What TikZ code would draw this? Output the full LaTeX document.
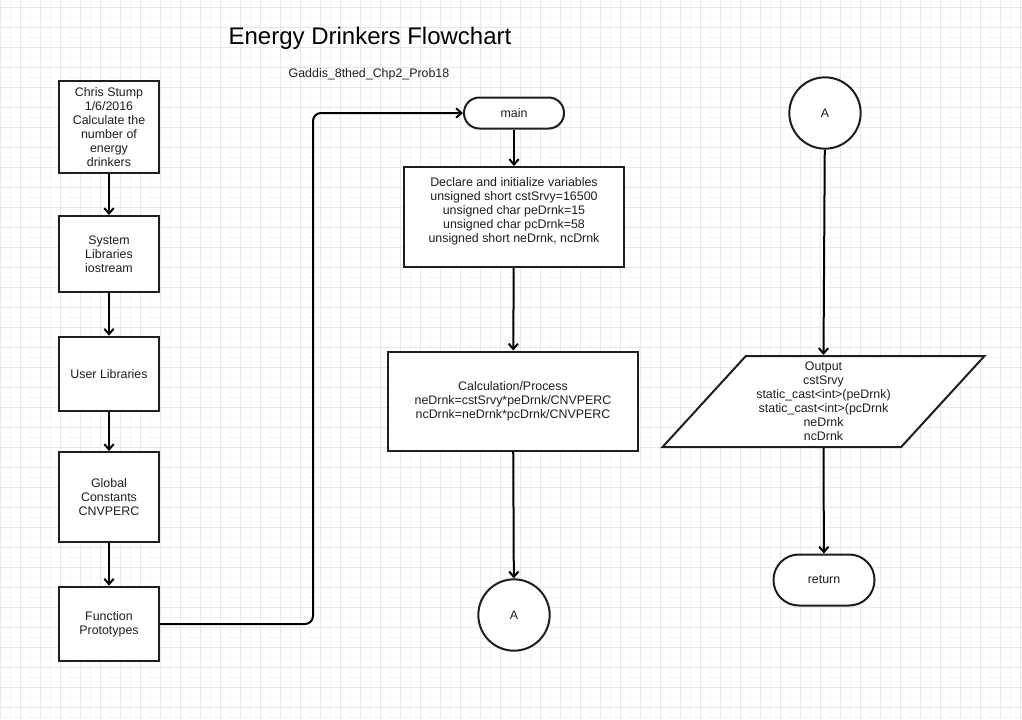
\documentclass[tikz,border=0pt]{standalone}
\usepackage{fontspec}
\setmainfont{Liberation Sans}
\usetikzlibrary{arrows.meta,shapes.geometric}
\definecolor{gridmajor}{RGB}{230,230,240}
\definecolor{gridminor}{RGB}{246,246,250}
\definecolor{ink}{RGB}{30,30,30}
\tikzset{
  gridline/.style={draw=gridmajor, line width=0.75pt},
  gridfaint/.style={draw=gridminor, line width=0.6pt},
  procbox/.style={draw=ink, line width=1.5pt, fill=white, text=ink, align=center,
    font=\fontsize{9.3}{10.5}\selectfont, inner sep=2pt},
  termbox/.style={procbox, rounded corners=11.5pt},
  connbox/.style={procbox, circle, minimum size=53.5pt, inner sep=0pt},
  iobox/.style={procbox, trapezium, trapezium left angle=48.3, trapezium right angle=131.7,
    trapezium stretches=true},
  flow/.style={draw=black, line width=1.5pt, -{Straight Barb[length=4pt,width=7pt]}},
}
\begin{document}
\begin{tikzpicture}[x=0.75pt, y=-0.75pt]
  \useasboundingbox (0,0) rectangle (1022,719);
  \fill[white] (0,0) rectangle (1022,719);
  \foreach \gx in {10,30,...,1010} \draw[gridfaint] (\gx,0) -- (\gx,719);
  \foreach \gy in {17,37,...,717} \draw[gridfaint] (0,\gy) -- (1022,\gy);
  \foreach \gx in {0,20,...,1020} \draw[gridline] (\gx,0) -- (\gx,719);
  \foreach \gy in {7,27,...,707} \draw[gridline] (0,\gy) -- (1022,\gy);

  \node[font=\fontsize{18}{22}\selectfont, text=black] (title) at (370,38) {Energy Drinkers Flowchart};
  \node[font=\fontsize{9.3}{11}\selectfont, text=ink] (subtitle) at (369,74) {Gaddis\_8thed\_Chp2\_Prob18};

  \node[procbox, minimum width=75pt, minimum height=69pt] (header) at (109,127)
    {Chris Stump\\1/6/2016\\Calculate the\\number of\\energy\\drinkers};
  \node[procbox, minimum width=75pt, minimum height=57pt] (syslib) at (109,254)
    {System\\Libraries\\iostream};
  \node[procbox, minimum width=75pt, minimum height=56pt] (userlib) at (109,374)
    {User Libraries};
  \node[procbox, minimum width=75pt, minimum height=67.5pt] (global) at (109,497)
    {Global\\Constants\\CNVPERC};
  \node[procbox, minimum width=75pt, minimum height=56pt] (proto) at (109,624)
    {Function\\Prototypes};

  \node[termbox, minimum width=75pt, minimum height=23.25pt] (main) at (514,113) {main};
  \node[procbox, minimum width=165pt, minimum height=75pt] (declare) at (514,217)
    {Declare and initialize variables\\unsigned short cstSrvy=16500\\unsigned char peDrnk=15\\
     unsigned char pcDrnk=58\\unsigned short neDrnk, ncDrnk\\ \mbox{}};
  \node[procbox, minimum width=187.5pt, minimum height=74.25pt] (calc) at (513,401)
    {Calculation/Process\\neDrnk=cstSrvy*peDrnk/CNVPERC\\ncDrnk=neDrnk*pcDrnk/CNVPERC};
  \node[connbox] (connA) at (514,615) {A};

  \node[connbox] (connB) at (825,113) {A};
  \node[iobox, minimum width=242pt, minimum height=68.25pt] (output) at (823.5,401.5)
    {Output\\cstSrvy\\static\_cast<int>(peDrnk)\\static\_cast<int>(pcDrnk\\neDrnk\\ncDrnk};
  \node[termbox, rounded corners=19pt, minimum width=75.75pt, minimum height=38.25pt] (ret) at (824,580) {return};

  \coordinate (bend) at (313,113);
  \draw[flow] (header) -- (syslib);
  \draw[flow] (syslib) -- (userlib);
  \draw[flow] (userlib) -- (global);
  \draw[flow] (global) -- (proto);
  \draw[flow, rounded corners=6pt] (proto.east) -| (bend) -- (main.west);
  \draw[flow] (main) -- (declare);
  \draw[flow] (declare) -- (calc);
  \draw[flow] (calc) -- (connA);
  \draw[flow] (connB) -- (output.north);
  \draw[flow] (output.south) -- (ret);
\end{tikzpicture}
\end{document}
